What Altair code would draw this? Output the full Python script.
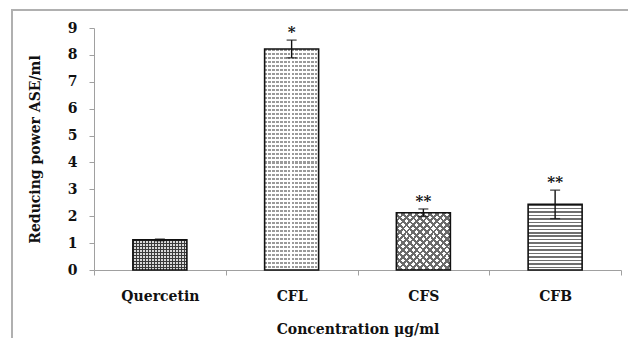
import altair as alt
import pandas as pd

categories = ["Quercetin", "CFL", "CFS", "CFB"]
values = [1.12, 8.22, 2.13, 2.44]
errors = [0.03, 0.33, 0.14, 0.53]
marks = ["", "*", "**", "**"]
y_ticks = [0, 1, 2, 3, 4, 5, 6, 7, 8, 9]

df = pd.DataFrame({"cat": categories, "val": values, "err": errors, "sig": marks})
df["lo"] = df["val"] - df["err"]
df["hi"] = df["val"] + df["err"]

SERIF = "DejaVu Serif"
AX = "#a0a0a0"


def stripes(n, c1, c2, frac=0.5):
    s = []
    for i in range(n):
        a, b, c = i / n, (i + frac) / n, (i + 1) / n
        s += [alt.GradientStop(color=c1, offset=a), alt.GradientStop(color=c1, offset=b),
              alt.GradientStop(color=c2, offset=b), alt.GradientStop(color=c2, offset=c)]
    return s


def grad(n, c1, c2, x1, y1, x2, y2, frac=0.5):
    return alt.Gradient(gradient="linear", stops=stripes(n, c1, c2, frac),
                        x1=x1, y1=y1, x2=x2, y2=y2)


base = alt.Chart(df)
xenc = alt.X("cat:N", sort=categories, title="Concentration μg/ml",
             scale=alt.Scale(paddingInner=0, paddingOuter=0),
             axis=alt.Axis(labelAngle=0, tickBand="extent", tickSize=5, labelPadding=14,
                           titleY=59, titleBaseline="middle",
                           domainColor=AX, tickColor=AX))
yscale = alt.Scale(domain=[0, 9], nice=False)
yaxis = alt.Axis(values=y_ticks, grid=False, tickSize=5, labelPadding=12,
                 labelOverlap=False, labelFlush=False,
                 titleX=-59, titleY=121, titleBaseline="middle", titleAngle=270,
                 domainColor=AX, tickColor=AX)
TITLE_Y = "Reducing power ASE/ml"


def Y(field):
    return alt.Y(field, title=TITLE_Y, scale=yscale, axis=yaxis)


BW = 54


def bar(cat, fill):
    return base.transform_filter(alt.datum.cat == cat).mark_bar(width=BW, fill=fill, strokeWidth=0).encode(x=xenc, y=Y("val:Q"))


layers = [
    bar("Quercetin", grad(18, "#3a3a3a", "#d8d8d8", 0, 0, 1, 0)),
    bar("Quercetin", grad(10, "#3a3a3a", "rgba(0,0,0,0)", 0, 0, 0, 1, 0.4)),
    bar("CFL", grad(55, "#9a9a9a", "#ffffff", 0, 0, 0, 1)),
    bar("CFL", grad(14, "rgba(255,255,255,0)", "#ffffff", 0, 0, 1, 0, 0.7)),
    bar("CFS", grad(16, "#6a6a6a", "#ffffff", 0, 0, 1, 1, 0.4)),
    bar("CFS", grad(16, "#6a6a6a", "rgba(255,255,255,0)", 1, 0, 0, 1, 0.4)),
    bar("CFB", grad(19, "#707070", "#ffffff", 0, 0, 0, 1, 0.45)),
    base.mark_bar(width=BW, fillOpacity=0, stroke="#111111", strokeWidth=1.6).encode(x=xenc, y=Y("val:Q")),
    base.mark_rule(color="#111111", strokeWidth=1.4).encode(x=xenc, y=Y("lo:Q"), y2="hi:Q"),
    base.mark_tick(color="#111111", thickness=1.4, size=10).encode(x=xenc, y=Y("lo:Q")),
    base.mark_tick(color="#111111", thickness=1.4, size=10).encode(x=xenc, y=Y("hi:Q")),
    base.mark_text(font=SERIF, fontSize=15, fontWeight="bold", baseline="bottom", dy=0,
                   color="#111111").encode(x=xenc, y=Y("hi:Q"), text="sig:N"),
    base.mark_rect(fillOpacity=0, stroke="#b0b0b0", strokeWidth=2).encode(
        x=alt.value(-82), x2=alt.value(800), y=alt.value(-18), y2=alt.value(600)),
]

chart = alt.layer(*layers).properties(
    width=527, height=242,
    autosize=alt.AutoSizeParams(type="none"),
    padding={"left": 86, "top": 20, "right": 7, "bottom": 68},
).configure_view(stroke=None).configure_axis(
    labelFont=SERIF, titleFont=SERIF, labelFontSize=14, titleFontSize=14,
    labelFontWeight="bold", titleFontWeight="bold", labelColor="#111111", titleColor="#111111",
)

chart.save("out.html", embed_options={"renderer": "svg", "actions": False})
